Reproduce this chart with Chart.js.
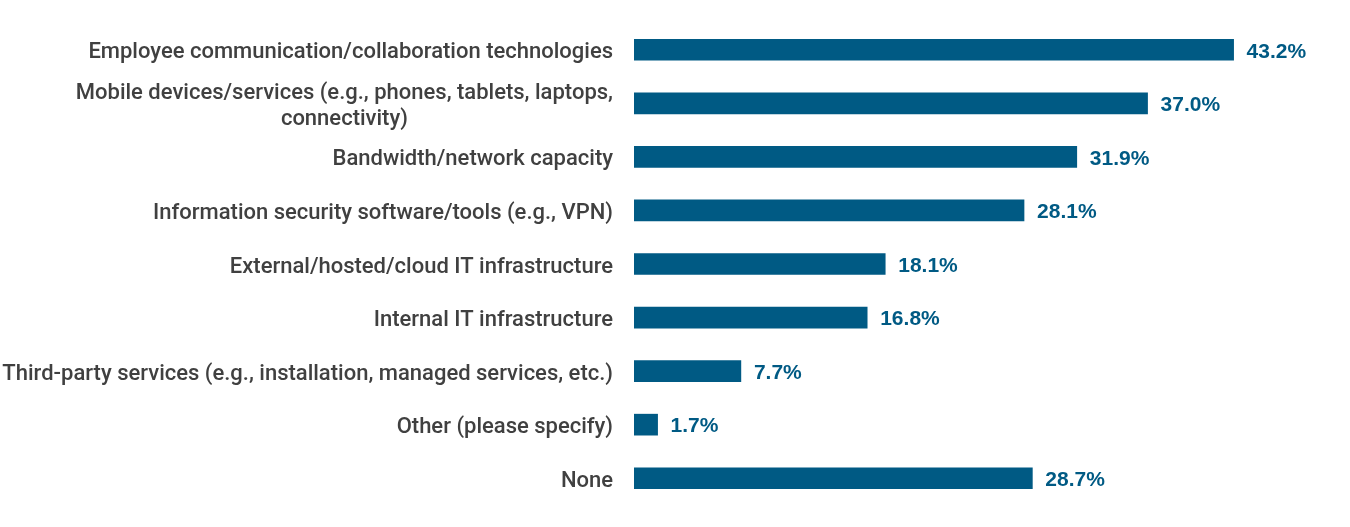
<!DOCTYPE html>
<html>
<head>
<meta charset="utf-8">
<script src="https://cdn.jsdelivr.net/npm/chart.js@4.4.1/dist/chart.umd.min.js"></script>
<style>
  html, body { margin: 0; padding: 0; background: #fff; }
  #wrap { width: 1350px; height: 527px; }
</style>
</head>
<body>
<div id="wrap"><canvas id="myChart"></canvas></div>
<script>
var categories = [
    ['Employee communication/collaboration technologies'],
    ['Mobile devices/services (e.g., phones, tablets, laptops,', 'connectivity)'],
    ['Bandwidth/network capacity'],
    ['Information security software/tools (e.g., VPN)'],
    ['External/hosted/cloud IT infrastructure'],
    ['Internal IT infrastructure'],
    ['Third-party services (e.g., installation, managed services, etc.)'],
    ['Other (please specify)'],
    ['None']
];
var shares = [43.2, 37.0, 31.9, 28.1, 18.1, 16.8, 7.7, 1.7, 28.7];

var barColor = '#005a84';
var labelFont = '500 22px Roboto, "DejaVu Sans Condensed", sans-serif';
var valueFont = 'bold 21px "Liberation Sans", Arial, sans-serif';

// category labels: block right-aligned to the axis, lines centred within the block
var categoryLabels = {
    id: 'categoryLabels',
    afterDraw: function (chart) {
        var ctx = chart.ctx;
        var y = chart.scales.y;
        var right = y.right - 21;
        ctx.save();
        ctx.font = labelFont;
        ctx.fillStyle = '#404040';
        ctx.textAlign = 'center';
        ctx.textBaseline = 'middle';
        categories.forEach(function (lines, i) {
            var w = 0;
            lines.forEach(function (l) { w = Math.max(w, ctx.measureText(l).width); });
            var cx = right - w / 2;
            var lh = 26;
            var top = y.getPixelForTick(i) + 3 - (lines.length - 1) * lh / 2;
            lines.forEach(function (l, j) { ctx.fillText(l, cx, top + j * lh); });
        });
        ctx.restore();
    }
};

var valueLabels = {
    id: 'valueLabels',
    afterDatasetsDraw: function (chart) {
        var ctx = chart.ctx;
        var meta = chart.getDatasetMeta(0);
        ctx.save();
        ctx.font = valueFont;
        ctx.fillStyle = barColor;
        ctx.textAlign = 'left';
        ctx.textBaseline = 'middle';
        meta.data.forEach(function (bar, i) {
            ctx.fillText(shares[i].toFixed(1) + '%', bar.x + 13, bar.y + 2);
        });
        ctx.restore();
    }
};

var ctx = document.getElementById('myChart');
var myChart = new Chart(ctx, {
    type: 'bar',
    data: {
        labels: categories,
        datasets: [{
            data: shares,
            backgroundColor: barColor,
            borderWidth: 0,
            barThickness: 21
        }]
    },
    options: {
        indexAxis: 'y',
        responsive: true,
        maintainAspectRatio: false,
        animation: false,
        layout: { padding: { left: 0, right: 22, top: 23, bottom: 22 } },
        plugins: {
            legend: { display: false },
            tooltip: { enabled: false }
        },
        scales: {
            x: {
                display: false,
                min: 0,
                max: 50
            },
            y: {
                grid: { display: false },
                border: { display: false },
                ticks: { display: false },
                afterFit: function (scale) { scale.width = 634; }
            }
        }
    },
    plugins: [categoryLabels, valueLabels]
});
</script>
</body>
</html>
